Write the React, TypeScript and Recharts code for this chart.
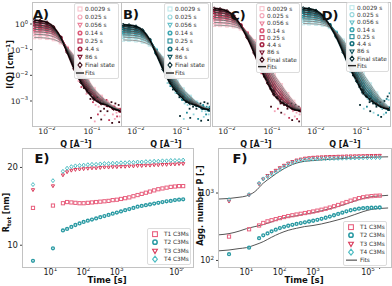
import React from 'react'
import { ComposedChart, Scatter, XAxis, YAxis } from 'recharts'

const FONT = '"DejaVu Sans", sans-serif'

// ---- SAXS panels (A-D) ----
const Q_FIT = [0.0052, 0.007, 0.01, 0.014, 0.02, 0.028, 0.04, 0.056, 0.08, 0.11, 0.16, 0.22, 0.3, 0.42]
const Q_DOMAIN = [0.00464, 0.44]
const I_DOMAIN = [1.06e-4, 7.2]
const TIME_LABELS = ['0.0029 s', '0.025 s', '0.056 s', '0.14 s', '0.25 s', '4.4 s', '86 s', 'Final state']

const CURVES_A = [
  [0.3, 0.295, 0.28, 0.25, 0.19, 0.12, 0.055, 0.02, 0.007, 0.003, 0.0015, 0.0009, 0.0006, 0.00045],
  [0.4, 0.39, 0.37, 0.32, 0.22, 0.115, 0.048, 0.017, 0.006, 0.0027, 0.0014, 0.00085, 0.00058, 0.00044],
  [0.5, 0.49, 0.46, 0.39, 0.24, 0.11, 0.042, 0.014, 0.0052, 0.0024, 0.0012, 0.0008, 0.00056, 0.00044],
  [0.62, 0.6, 0.56, 0.46, 0.26, 0.105, 0.036, 0.012, 0.0045, 0.0021, 0.0011, 0.00075, 0.00055, 0.00043],
  [0.76, 0.73, 0.67, 0.53, 0.28, 0.1, 0.031, 0.0095, 0.0038, 0.0018, 0.001, 0.0007, 0.00053, 0.00043],
  [0.93, 0.89, 0.8, 0.6, 0.29, 0.095, 0.026, 0.008, 0.0032, 0.0015, 0.0009, 0.00068, 0.00052, 0.00042],
  [1.15, 1.1, 0.97, 0.68, 0.3, 0.088, 0.021, 0.0065, 0.0027, 0.0013, 0.00085, 0.00066, 0.00051, 0.00042],
  [1.4, 1.33, 1.15, 0.76, 0.3, 0.08, 0.018, 0.0055, 0.0023, 0.0012, 0.0008, 0.00068, 0.0005, 0.00042],
]
const CURVES_B = [
  [0.24, 0.235, 0.225, 0.2, 0.155, 0.1, 0.047, 0.018, 0.0065, 0.0029, 0.0015, 0.0009, 0.0006, 0.00048],
  [0.31, 0.3, 0.29, 0.25, 0.18, 0.098, 0.042, 0.015, 0.0057, 0.0026, 0.0014, 0.00085, 0.00058, 0.00047],
  [0.38, 0.37, 0.35, 0.3, 0.2, 0.095, 0.037, 0.013, 0.005, 0.0023, 0.0012, 0.0008, 0.00057, 0.00047],
  [0.46, 0.45, 0.42, 0.35, 0.21, 0.092, 0.032, 0.011, 0.0043, 0.002, 0.0011, 0.00077, 0.00056, 0.00047],
  [0.55, 0.53, 0.49, 0.4, 0.22, 0.088, 0.028, 0.0092, 0.0037, 0.0017, 0.001, 0.00074, 0.00055, 0.00046],
  [0.66, 0.64, 0.58, 0.45, 0.23, 0.083, 0.024, 0.0078, 0.0031, 0.0015, 0.0009, 0.00071, 0.00054, 0.00046],
  [0.8, 0.77, 0.69, 0.51, 0.24, 0.077, 0.02, 0.0064, 0.0026, 0.0013, 0.00085, 0.00069, 0.00053, 0.00046],
  [0.93, 0.9, 0.8, 0.57, 0.245, 0.07, 0.017, 0.0053, 0.0022, 0.0012, 0.0008, 0.00068, 0.00052, 0.00046],
]
const CURVES_C = [
  [0.9, 0.89, 0.86, 0.8, 0.66, 0.45, 0.22, 0.09, 0.033, 0.011, 0.0042, 0.0019, 0.00095, 0.0005],
  [1.15, 1.13, 1.08, 0.97, 0.74, 0.45, 0.19, 0.075, 0.026, 0.0088, 0.0034, 0.0016, 0.0008, 0.00048],
  [1.45, 1.42, 1.33, 1.15, 0.8, 0.44, 0.17, 0.06, 0.02, 0.007, 0.0027, 0.0013, 0.0007, 0.00047],
  [1.8, 1.75, 1.62, 1.34, 0.85, 0.42, 0.145, 0.047, 0.015, 0.0052, 0.0021, 0.0011, 0.00062, 0.00046],
  [2.25, 2.18, 1.98, 1.55, 0.88, 0.39, 0.12, 0.036, 0.011, 0.0038, 0.0016, 0.0009, 0.00056, 0.00045],
  [2.8, 2.7, 2.4, 1.75, 0.9, 0.36, 0.1, 0.027, 0.0078, 0.0027, 0.0012, 0.00075, 0.0005, 0.00044],
  [3.4, 3.25, 2.85, 1.95, 0.88, 0.33, 0.085, 0.021, 0.006, 0.0021, 0.001, 0.00068, 0.00048, 0.00043],
  [4.0, 3.8, 3.2, 2.1, 0.86, 0.3, 0.075, 0.018, 0.005, 0.0018, 0.0009, 0.00065, 0.00047, 0.00042],
]
const CURVES_D = [
  [1.05, 1.03, 1.0, 0.92, 0.74, 0.48, 0.23, 0.095, 0.035, 0.012, 0.0045, 0.002, 0.001, 0.00055],
  [1.3, 1.28, 1.22, 1.08, 0.8, 0.47, 0.2, 0.078, 0.028, 0.0095, 0.0036, 0.0017, 0.00088, 0.00053],
  [1.6, 1.56, 1.46, 1.25, 0.85, 0.46, 0.175, 0.064, 0.022, 0.0075, 0.0029, 0.0014, 0.00078, 0.00052],
  [1.95, 1.9, 1.75, 1.43, 0.89, 0.44, 0.15, 0.05, 0.017, 0.0058, 0.0023, 0.0012, 0.0007, 0.00051],
  [2.4, 2.32, 2.1, 1.62, 0.91, 0.41, 0.125, 0.039, 0.012, 0.0043, 0.0018, 0.001, 0.00063, 0.0005],
  [2.9, 2.8, 2.5, 1.8, 0.92, 0.38, 0.105, 0.03, 0.009, 0.0032, 0.0014, 0.00085, 0.00058, 0.0005],
  [3.5, 3.35, 2.92, 1.98, 0.9, 0.35, 0.09, 0.024, 0.007, 0.0025, 0.0012, 0.00078, 0.00056, 0.00049],
  [4.1, 3.9, 3.3, 2.15, 0.88, 0.32, 0.08, 0.02, 0.006, 0.0021, 0.0011, 0.00075, 0.00055, 0.00049],
]

// noisy high-q points
const NOISE_Q = [0.05, 0.058, 0.066, 0.075, 0.085, 0.092, 0.1, 0.105, 0.11, 0.12, 0.125, 0.13, 0.14, 0.15, 0.155, 0.165, 0.175, 0.185, 0.2, 0.21, 0.22, 0.235, 0.25, 0.27, 0.29, 0.31, 0.33, 0.35, 0.37, 0.39, 0.41, 0.43, 0.095, 0.115, 0.135, 0.16, 0.19, 0.24, 0.28, 0.32, 0.36, 0.4]
const NOISE_A = [0.006, 0.0035, 0.0032, 0.0019, 0.0024, 0.0012, 0.0016, 0.0009, 0.0013, 0.0007, 0.0011, 0.0014, 0.0006, 0.001, 0.0004, 0.0009, 0.0012, 0.0005, 0.0007, 0.0011, 0.0004, 0.0008, 0.0006, 0.0009, 0.0003, 0.0006, 0.0008, 0.00035, 0.0005, 0.0007, 0.00025, 0.0005, 0.00022, 0.00016, 0.0003, 0.00019, 0.00028, 0.00018, 0.00014, 0.0002, 0.00025, 0.00015]
const NOISE_B = [0.005, 0.0038, 0.0028, 0.0021, 0.002, 0.0014, 0.0013, 0.0011, 0.0015, 0.0008, 0.0012, 0.0009, 0.0007, 0.0011, 0.0005, 0.0008, 0.001, 0.0006, 0.0008, 0.0009, 0.0005, 0.0007, 0.0006, 0.0008, 0.0004, 0.0007, 0.0009, 0.0004, 0.0006, 0.0008, 0.0003, 0.0006, 0.00026, 0.0002, 0.00035, 0.00022, 0.0003, 0.0002, 0.00017, 0.00024, 0.0003, 0.00018]
const NOISE_C = [0.02, 0.012, 0.009, 0.006, 0.0045, 0.003, 0.0032, 0.0022, 0.0025, 0.0016, 0.0019, 0.0014, 0.0011, 0.0013, 0.0008, 0.001, 0.0012, 0.0007, 0.0008, 0.0009, 0.0005, 0.0007, 0.0006, 0.0008, 0.0004, 0.0006, 0.0007, 0.00035, 0.0005, 0.0006, 0.0003, 0.0005, 0.0006, 0.0004, 0.0005, 0.00035, 0.0003, 0.00022, 0.00018, 0.00025, 0.0002, 0.00016]
const NOISE_D = [0.022, 0.014, 0.01, 0.007, 0.005, 0.0035, 0.0033, 0.0025, 0.0027, 0.0018, 0.002, 0.0015, 0.0012, 0.0014, 0.0009, 0.0011, 0.0012, 0.0008, 0.0009, 0.001, 0.0006, 0.0008, 0.0007, 0.0009, 0.0005, 0.0008, 0.001, 0.0007, 0.0012, 0.0015, 0.0011, 0.002, 0.0007, 0.0005, 0.0006, 0.0004, 0.00035, 0.00028, 0.00024, 0.0003, 0.00035, 0.00045]

const REDS = ['#f8c3cd', '#f3a3b6', '#ea8099', '#dc5b79', '#c63a5b', '#a52444', '#7b132e', '#3b0713']
const TEALS = ['#bfe8eb', '#93d5db', '#66bfc8', '#3ea6b2', '#238b99', '#146f7c', '#0b525c', '#04282e']
const FIT_GRAYS = ['#999999', '#888888', '#767676', '#636363', '#505050', '#3c3c3c', '#242424', '#000000']
const MARKS = ['square', 'circle', 'tri', 'oct', 'square', 'oct', 'tri', 'diamond']

// ---- kinetics panels (E, F) ----
const TIMES = [3, 12, 24, 32, 43, 57, 76, 101, 135, 180, 240, 320, 427, 570, 760, 1012, 1350, 1800, 2400, 3200, 4270, 5690, 7590, 10100, 13500, 18000, 24000, 32000, 42700, 57000, 76000, 101000]
const SERIES_NAMES = ['T1 C3Ms', 'T2 C3Ms', 'T3 C3Ms', 'T4 C3Ms']

const R_T1 = [14.8, 15.1, 15.4, 15.55, 15.5, 15.45, 15.4, 15.4, 15.45, 15.5, 15.55, 15.6, 15.65, 15.7, 15.8, 15.85, 15.95, 16.05, 16.15, 16.3, 16.45, 16.6, 16.75, 16.9, 17.05, 17.2, 17.3, 17.4, 17.5, 17.55, 17.6, 17.6]
const R_T2 = [8.0, 9.6, 11.9, 12.1, 12.35, 12.6, 12.8, 13.0, 13.15, 13.3, 13.45, 13.6, 13.75, 13.9, 14.05, 14.2, 14.35, 14.5, 14.65, 14.8, 14.95, 15.05, 15.15, 15.25, 15.35, 15.45, 15.55, 15.65, 15.7, 15.8, 15.85, 15.9]
const R_T3 = [17.1, 17.6, 19.0, 19.4, 19.6, 19.7, 19.75, 19.8, 19.85, 19.9, 19.9, 19.95, 20.0, 20.0, 20.05, 20.05, 20.1, 20.1, 20.15, 20.15, 20.2, 20.2, 20.25, 20.25, 20.3, 20.3, 20.35, 20.35, 20.4, 20.4, 20.45, 20.45]
const R_T4 = [17.8, 18.3, 19.5, 19.9, 20.1, 20.2, 20.25, 20.3, 20.35, 20.4, 20.4, 20.45, 20.5, 20.5, 20.55, 20.55, 20.6, 20.6, 20.65, 20.65, 20.7, 20.7, 20.75, 20.75, 20.8, 20.8, 20.85, 20.85, 20.9, 20.9, 20.9, 20.95]

const P_T1 = [226, 290, 330, 360, 380, 395, 410, 425, 440, 455, 468, 480, 492, 505, 518, 532, 548, 565, 585, 608, 635, 665, 700, 735, 770, 805, 840, 865, 885, 900, 910, 915]
const P_T2 = [124, 155, 214, 236, 252, 270, 286, 302, 315, 327, 338, 348, 358, 368, 378, 388, 400, 414, 430, 448, 468, 490, 512, 535, 555, 572, 585, 595, 600, 605, 608, 610]
const P_T3 = [750, 930, 1350, 1600, 1800, 1980, 2150, 2350, 2550, 2750, 2900, 3050, 3150, 3250, 3300, 3350, 3380, 3400, 3420, 3440, 3450, 3470, 3480, 3500, 3510, 3520, 3530, 3540, 3550, 3560, 3570, 3580]
const P_T4 = [800, 950, 1400, 1620, 1750, 1900, 2050, 2250, 2450, 2650, 2800, 2950, 3050, 3100, 3150, 3180, 3200, 3220, 3240, 3250, 3260, 3270, 3280, 3290, 3300, 3310, 3320, 3330, 3340, 3340, 3350, 3350]

const FIT_T = [1.5, 3, 6, 10, 18, 32, 56, 100, 180, 320, 560, 1000, 1800, 3200, 5600, 10000, 18000, 32000, 56000, 100000, 180000]
const FIT_TOP = [815, 830, 865, 905, 1050, 1400, 1720, 2100, 2480, 2780, 2950, 3030, 3100, 3160, 3210, 3260, 3310, 3350, 3390, 3420, 3440]
const FIT_MID = [240, 250, 272, 296, 318, 340, 372, 412, 440, 460, 485, 510, 545, 585, 630, 690, 760, 830, 880, 905, 925]
const FIT_LOW = [139, 143, 150, 155, 170, 190, 220, 252, 280, 300, 318, 330, 348, 372, 400, 434, 480, 530, 570, 590, 600]

const KIN_COLORS = ['#e8607e', '#2a9aa3', '#d93a5a', '#4cbcc2']
const KIN_MARKS = ['square', 'oct', 'tri', 'diamond']
const DECADES = [10, 100, 1000, 10000, 100000]

function mark(kind: string, cx: number, cy: number, r: number, color: string, sw: number) {
  const p = { fill: 'none', stroke: color, strokeWidth: sw }
  if (kind === 'square') return <rect x={cx - r} y={cy - r} width={2 * r} height={2 * r} {...p} />
  if (kind === 'tri') return <polygon points={`${cx - r},${cy - r * 0.8} ${cx + r},${cy - r * 0.8} ${cx},${cy + r}`} {...p} />
  if (kind === 'diamond') return <polygon points={`${cx},${cy - r * 1.25} ${cx + r},${cy} ${cx},${cy + r * 1.25} ${cx - r},${cy}`} {...p} />
  if (kind === 'oct') return <circle cx={cx} cy={cy} r={r * 0.9} {...p} strokeWidth={sw * 1.4} />
  return <circle cx={cx} cy={cy} r={r} {...p} />
}

function PowTick(props: any) {
  const { x, y, payload, orient, size = 7.5 } = props
  const e = Math.round(Math.log10(payload.value))
  const s = e < 0 ? '\u2212' + String(-e) : String(e)
  if (orient === 'y') {
    return (
      <text x={x} y={y + 3} textAnchor="end" fontSize={size} fill="#222" fontFamily={FONT}>
        10<tspan dy={-3.5} fontSize={size * 0.7}>{s}</tspan>
      </text>
    )
  }
  return (
    <text x={x} y={y + 3.5} textAnchor="middle" fontSize={size} fill="#222" fontFamily={FONT}>
      10<tspan dy={-3.5} fontSize={size * 0.7}>{s}</tspan>
    </text>
  )
}

const noShape = () => <g />

function SaxsPanel({ left, width, showY, curves, palette, noise }: any) {
  const shades = [palette[1], palette[4], palette[7]]
  const noisePts = NOISE_Q.map((q, k) => ({ q, v: noise[k] }))
  return (
    <div style={{ position: 'absolute', left, top: 0 }}>
      <ComposedChart width={width} height={140} margin={{ top: 2, right: 2, bottom: 0, left: 0 }}>
        <XAxis dataKey="q" type="number" scale="log" domain={Q_DOMAIN} allowDataOverflow ticks={[0.01, 0.1]}
          height={14} tickSize={2} axisLine={false} tickLine={{ stroke: '#444' }} tick={<PowTick />} />
        <YAxis type="number" scale="log" domain={I_DOMAIN} allowDataOverflow ticks={[0.001, 0.01, 0.1, 1]}
          width={32} hide={!showY} tickSize={2} axisLine={false} tickLine={{ stroke: '#444' }} tick={<PowTick orient="y" />} />
        {curves.map((c: number[], i: number) => (
          <Scatter key={'d' + i} data={Q_FIT.map((q, k) => ({ q, v: c[k] }))} dataKey="v" isAnimationActive={false}
            line={{ stroke: palette[i], strokeWidth: 2, strokeOpacity: 0.85 }} lineJointType="monotoneX"
            shape={(p: any) => mark(MARKS[i], p.cx, p.cy, 1.4, palette[i], 0.9)} />
        ))}
        {[0, 1, 2].map((g) => (
          <Scatter key={'n' + g} data={noisePts.filter((_, k) => k % 3 === g)} dataKey="v" isAnimationActive={false}
            shape={(p: any) => <rect x={p.cx - 0.9} y={p.cy - 0.9} width={1.8} height={1.8} fill={shades[g]} />} />
        ))}
        {curves.map((c: number[], i: number) => (
          <Scatter key={'f' + i} data={Q_FIT.map((q, k) => ({ q, v: c[k] }))} dataKey="v" isAnimationActive={false}
            line={{ stroke: FIT_GRAYS[i], strokeWidth: 1 }} lineJointType="monotoneX" shape={noShape} />
        ))}
      </ComposedChart>
    </div>
  )
}

function Frame({ x, y, w, h }: any) {
  return <div style={{ position: 'absolute', left: x, top: y, width: w + 1, height: h + 1, boxSizing: 'border-box', border: '1px solid #c2c2c2', pointerEvents: 'none' }} />
}

function SaxsLegend({ x, y, w, gap, palette }: any) {
  return (
    <div style={{ position: 'absolute', left: x, top: y, width: w, padding: '1px 0 1px 1px', background: 'rgba(255,255,255,0.9)', border: '1px solid #dcdcdc', borderRadius: 2, fontFamily: FONT, fontSize: 5.8, color: '#333', boxSizing: 'border-box' }}>
      {TIME_LABELS.map((t, i) => (
        <div key={t} style={{ display: 'flex', alignItems: 'center', height: gap, whiteSpace: 'nowrap' }}>
          <svg width={8} height={gap}>{mark(MARKS[i], 4, gap / 2, 2, palette[i], 1.1)}</svg>
          <span style={{ marginLeft: 1 }}>{t}</span>
        </div>
      ))}
      <div style={{ display: 'flex', alignItems: 'center', height: gap }}>
        <svg width={8} height={gap}><line x1={0} x2={8} y1={gap / 2} y2={gap / 2} stroke="#222" strokeWidth={1.4} /></svg>
        <span style={{ marginLeft: 1 }}>Fits</span>
      </div>
    </div>
  )
}

function KinLegend({ x, y, withFits }: any) {
  const gap = 8.3
  return (
    <div style={{ position: 'absolute', left: x, top: y, width: 44, padding: '1px 0 1px 2px', background: 'rgba(255,255,255,0.9)', border: '1px solid #dcdcdc', borderRadius: 2, fontFamily: FONT, fontSize: 5.8, color: '#333', boxSizing: 'border-box' }}>
      {SERIES_NAMES.map((s, i) => (
        <div key={s} style={{ display: 'flex', alignItems: 'center', height: gap, whiteSpace: 'nowrap' }}>
          <svg width={11} height={gap}>{mark(KIN_MARKS[i], 5, gap / 2, 2.4, KIN_COLORS[i], 1.1)}</svg>
          <span style={{ marginLeft: 3 }}>{s}</span>
        </div>
      ))}
      {withFits && (
        <div style={{ display: 'flex', alignItems: 'center', height: gap }}>
          <svg width={11} height={gap}><line x1={0} x2={11} y1={gap / 2} y2={gap / 2} stroke="#555" strokeWidth={1.2} /></svg>
          <span style={{ marginLeft: 3 }}>Fits</span>
        </div>
      )}
    </div>
  )
}

function Txt({ x, y, size, bold, children, rotate, w = 120 }: any) {
  return (
    <div style={{ position: 'absolute', left: x - w / 2, top: y - size / 2 - 0.5, width: w, height: size + 1, lineHeight: `${size + 1}px`, textAlign: 'center', fontFamily: FONT, fontSize: size, fontWeight: bold ? 'bold' : 'normal', color: '#111', whiteSpace: 'nowrap', transform: rotate ? 'rotate(-90deg)' : undefined }}>
      {children}
    </div>
  )
}

const kinPts = (vals: number[]) => TIMES.map((t, k) => ({ t, v: vals[k] }))
const fitPts = (vals: number[]) => FIT_T.map((t, k) => ({ t, v: vals[k] }))

export default function App() {
  const rSeries = [R_T1, R_T2, R_T3, R_T4]
  const pSeries = [P_T1, P_T2, P_T3, P_T4]
  return (
    <div style={{ position: 'absolute', left: 0, top: 0, width: 392, height: 286, background: '#fff', overflow: 'hidden' }}>
      <SaxsPanel left={0} width={123} showY curves={CURVES_A} palette={REDS} noise={NOISE_A} />
      <SaxsPanel left={121} width={91} curves={CURVES_B} palette={TEALS} noise={NOISE_B} />
      <SaxsPanel left={212} width={91} curves={CURVES_C} palette={REDS} noise={NOISE_C} />
      <SaxsPanel left={301} width={91} curves={CURVES_D} palette={TEALS} noise={NOISE_D} />
      <Frame x={32} y={2} w={89} h={124} />
      <Frame x={121} y={2} w={89} h={124} />
      <Frame x={212} y={2} w={89} h={124} />
      <Frame x={301} y={2} w={89} h={124} />
      <SaxsLegend x={74} y={3} w={45} gap={8} palette={REDS} />
      <SaxsLegend x={164} y={3} w={45} gap={8} palette={TEALS} />
      <SaxsLegend x={256} y={3} w={44} gap={7.3} palette={REDS} />
      <SaxsLegend x={346} y={2} w={43} gap={7.3} palette={TEALS} />
      <Txt x={41} y={15} size={13} bold w={20}>A)</Txt>
      <Txt x={131} y={15} size={13} bold w={20}>B)</Txt>
      <Txt x={238} y={16} size={13} bold w={20}>C)</Txt>
      <Txt x={330} y={16} size={13} bold w={20}>D)</Txt>
      <Txt x={8} y={64} size={8} bold rotate>I(Q) [cm<sup style={{ fontSize: 5.5 }}>−1</sup>]</Txt>
      <Txt x={76} y={141} size={8} bold w={50}>Q [Å<sup style={{ fontSize: 5.5 }}>−1</sup>]</Txt>
      <Txt x={166} y={141} size={8} bold w={50}>Q [Å<sup style={{ fontSize: 5.5 }}>−1</sup>]</Txt>
      <Txt x={256} y={141} size={8} bold w={50}>Q [Å<sup style={{ fontSize: 5.5 }}>−1</sup>]</Txt>
      <Txt x={345} y={141} size={8} bold w={50}>Q [Å<sup style={{ fontSize: 5.5 }}>−1</sup>]</Txt>

      {/* E: radius vs time */}
      <div style={{ position: 'absolute', left: 0, top: 140 }}>
        <ComposedChart width={200} height={146} margin={{ top: 8, right: 7, bottom: 0, left: 0 }}>
          <XAxis dataKey="t" type="number" scale="log" domain={[1.4, 2e5]} allowDataOverflow ticks={DECADES}
            height={19} tickSize={2} axisLine={false} tickLine={{ stroke: '#444' }} tick={<PowTick size={8} />} />
          <YAxis type="number" domain={[7.2, 22.5]} allowDataOverflow ticks={[10, 20]} width={22} tickSize={2}
            axisLine={false} tickLine={{ stroke: '#444' }} tick={{ fontSize: 8.5, fill: '#222', fontFamily: FONT }} />
          {rSeries.map((s, i) => (
            <Scatter key={i} data={kinPts(s)} dataKey="v" isAnimationActive={false}
              shape={(p: any) => mark(KIN_MARKS[i], p.cx, p.cy, 1.6, KIN_COLORS[i], 1)} />
          ))}
        </ComposedChart>
      </div>
      {/* F: aggregation number vs time */}
      <div style={{ position: 'absolute', left: 196, top: 140 }}>
        <ComposedChart width={196} height={146} margin={{ top: 8, right: 1, bottom: 0, left: 0 }}>
          <XAxis dataKey="t" type="number" scale="log" domain={[1.4, 2.2e5]} allowDataOverflow ticks={DECADES}
            height={19} tickSize={2} axisLine={false} tickLine={{ stroke: '#444' }} tick={<PowTick size={8} />} />
          <YAxis type="number" scale="log" domain={[80, 4650]} allowDataOverflow ticks={[100, 1000]} width={22}
            tickSize={2} axisLine={false} tickLine={{ stroke: '#444' }} tick={<PowTick orient="y" size={8} />} />
          {[FIT_TOP, FIT_MID, FIT_LOW].map((f, i) => (
            <Scatter key={'f' + i} data={fitPts(f)} dataKey="v" isAnimationActive={false}
              line={{ stroke: '#555', strokeWidth: 1 }} lineJointType="monotoneX" shape={noShape} />
          ))}
          {pSeries.map((s, i) => (
            <Scatter key={i} data={kinPts(s)} dataKey="v" isAnimationActive={false}
              shape={(p: any) => mark(KIN_MARKS[i], p.cx, p.cy, 1.6, KIN_COLORS[i], 1)} />
          ))}
        </ComposedChart>
      </div>
      <Frame x={22} y={148} w={171} h={119} />
      <Frame x={218} y={148} w={173} h={119} />
      <KinLegend x={147} y={228} />
      <KinLegend x={343} y={221} withFits />
      <Txt x={42} y={159} size={13} bold w={20}>E)</Txt>
      <Txt x={240} y={159} size={13} bold w={20}>F)</Txt>
      <Txt x={6} y={212} size={8} bold rotate>R<sub style={{ fontSize: 5.5 }}>tot</sub> [nm]</Txt>
      <Txt x={200} y={205} size={8} bold rotate>Agg. number P [-]</Txt>
      <Txt x={107} y={281} size={8.5} bold w={60}>Time [s]</Txt>
      <Txt x={304} y={281} size={8.5} bold w={60}>Time [s]</Txt>
    </div>
  )
}
